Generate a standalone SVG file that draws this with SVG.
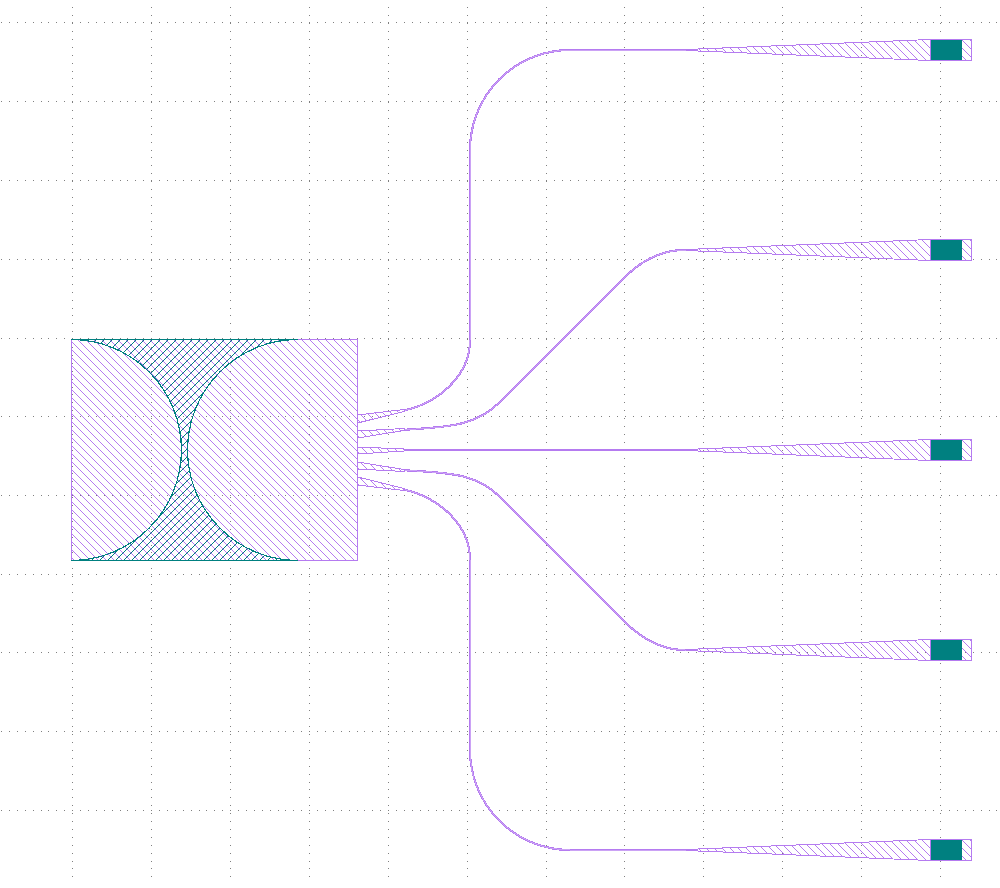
<svg xmlns="http://www.w3.org/2000/svg" xmlns:xlink="http://www.w3.org/1999/xlink" width="1000" height="888" viewBox="0 0 1000 888">
<style>
.grid{stroke:#808080;stroke-width:1;stroke-dasharray:1 6.9;fill:none;shape-rendering:crispEdges}
.wg{fill:none;stroke:#b57bf0;stroke-width:2.200;shape-rendering:crispEdges}
.wgi{fill:none;stroke:#f4eaff;stroke-width:.35;shape-rendering:crispEdges}
.sh{fill:url(#ph);stroke:#b57bf0;stroke-width:1;shape-rendering:crispEdges}
.pad{fill:#008080;stroke:none;shape-rendering:crispEdges}
.tl{fill:none;stroke:#008080;stroke-width:1.2;shape-rendering:crispEdges}
</style>
<defs>
<pattern id="ph" width="8" height="8" patternUnits="userSpaceOnUse">
<path d="M0 -2L10 8M-2 4L6 12" stroke="#b57bf0" stroke-width="1" shape-rendering="crispEdges"/>
</pattern>
<pattern id="th" width="8" height="8" patternUnits="userSpaceOnUse">
<path d="M-2 6L8 -4M2 10L12 0" stroke="#008080" stroke-width="1" shape-rendering="crispEdges"/>
</pattern>
<path id="w1" d="M404 410.500C438 403 470 376 470 340V150A100 100 0 0 1 570 50H692"/>
<path id="w2" d="M404 429.800C445 427 475 427 500 402L625 277C640 262 660 250 685 250H692"/>
<path id="w3" d="M404 450H692"/>
<path id="w4" d="M404 470.200C445 473 475 472 500 497L625 622C640 637 660 650 685 650H692"/>
<path id="w5" d="M404 489.500C438 497 470 524 470 560V750A100 100 0 0 0 570 850H692"/>
<g id="out">
<path class="sh" d="M686 49.500L930 39.500V60.500L686 50.500Z"/>
<rect class="sh" x="930.500" y="39.500" width="41" height="21"/>
<rect class="pad" x="931" y="40" width="31" height="20"/>
</g>
</defs>
<rect width="1000" height="888" fill="#fff"/>
<g id="grid">
<path class="grid" stroke-dashoffset="-1.3" d="M72.500 6V882M151.500 6V882M230.500 6V882M309 6V882M388 6V882M467 6V882M546 6V882M624.500 6V882M703.500 6V882M782.500 6V882M861.500 6V882M940.500 6V882"/>
<path class="grid" d="M1 22.500H1000M1 101.500H1000M1 180.500H1000M1 259H1000M1 338H1000M1 416.500H1000M1 495.500H1000M1 574H1000M1 652.500H1000M1 731.500H1000M1 810.500H1000"/>
</g>
<g id="mmi">
<rect class="sh" x="71.500" y="339.500" width="286" height="221"/>
<path d="M71 339.500H298A110.500 110.500 0 0 0 298 560.500H71A110.500 110.500 0 0 0 71 339.500Z" fill="url(#th)" stroke="none"/>
<path class="tl" d="M71 339.500H298A110.500 110.500 0 0 0 298 560.500H71A110.500 110.500 0 0 0 71 339.500Z"/>
<path d="M71.500 340V560" stroke="#b57bf0" stroke-width="1" shape-rendering="crispEdges"/>
</g>
<g id="connectors">
<use class="wg" xlink:href="#w1" href="#w1"/><use class="wgi" xlink:href="#w1" href="#w1"/>
<use class="wg" xlink:href="#w2" href="#w2"/><use class="wgi" xlink:href="#w2" href="#w2"/>
<use class="wg" xlink:href="#w3" href="#w3"/>
<use class="wg" xlink:href="#w4" href="#w4"/><use class="wgi" xlink:href="#w4" href="#w4"/>
<use class="wg" xlink:href="#w5" href="#w5"/><use class="wgi" xlink:href="#w5" href="#w5"/>
</g>
<g id="input-tapers">
<path class="sh" d="M357.500 415L404 409.500V411.500L357.500 423Z"/>
<path class="sh" d="M357.500 431L404 428.500V430.500L357.500 438Z"/>
<path class="sh" d="M357.500 447L404 449V451L357.500 454Z"/>
<path class="sh" d="M357.500 462L404 469.500V471.500L357.500 469Z"/>
<path class="sh" d="M357.500 477L404 488.500V490.500L357.500 485Z"/>
</g>
<use id="out1" xlink:href="#out" href="#out"/>
<use id="out2" xlink:href="#out" href="#out" y="200"/>
<use id="out3" xlink:href="#out" href="#out" y="400"/>
<use id="out4" xlink:href="#out" href="#out" y="600"/>
<use id="out5" xlink:href="#out" href="#out" y="800"/>
</svg>
